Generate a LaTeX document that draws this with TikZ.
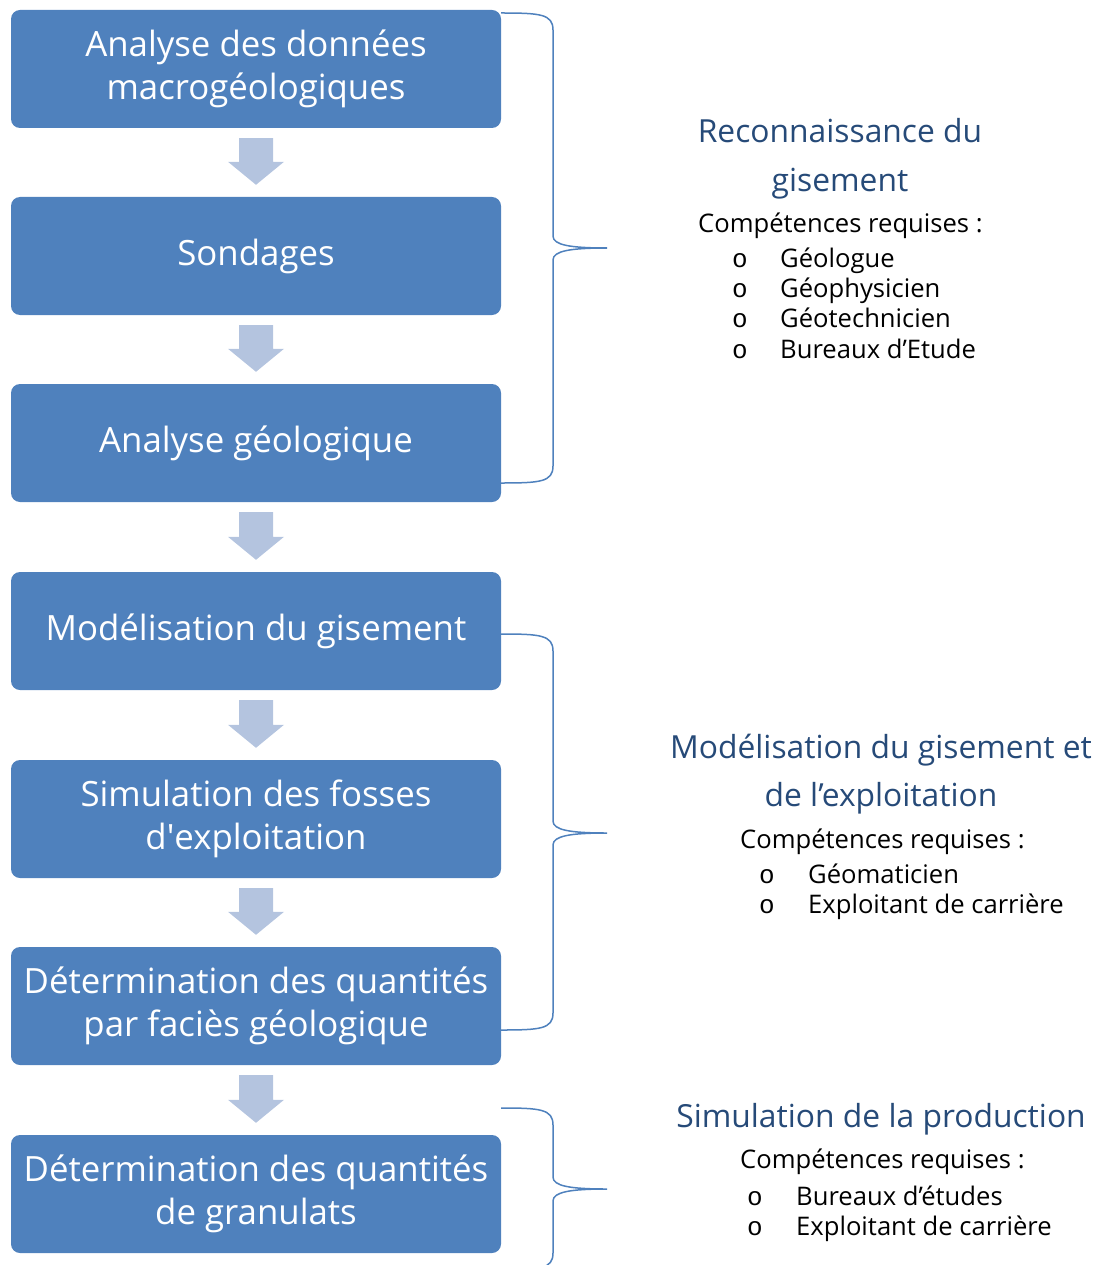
\documentclass[tikz,border=0pt]{standalone}
\usepackage{fontspec}
\setmainfont{Open Sans}
\newfontfamily\pucefont{Liberation Mono}
\usepackage{tikz}
\usetikzlibrary{calc}

\definecolor{boxblue}{RGB}{79,129,189}
\definecolor{arrowblue}{RGB}{180,196,223}
\definecolor{titleblue}{RGB}{38,74,120}

\tikzset{
  stepbox/.style={fill=boxblue, rounded corners=9pt, minimum width=490pt,
    minimum height=118pt, text=white, align=center,
    font=\fontsize{34.8}{43}\selectfont},
  titre/.style={anchor=base, inner sep=0pt, text=titleblue, font=\fontsize{31.8}{36}\selectfont},
  corps/.style={anchor=base west, inner sep=0pt, font=\fontsize{25.6}{30}\selectfont},
  puce/.style={anchor=base, inner sep=0pt, font=\pucefont\fontsize{26}{30}\selectfont},
  accolade/.style={draw=boxblue, line width=1.5pt}
}

\newcommand{\flowarrow}[2]{%
  \fill[arrowblue] ($(#1.south)+(-17,10)$) -- ($(#1.south)+(17,10)$)
    -- ($(#2.north)+(17,-35)$) -- ($(#2.north)+(28,-35)$)
    -- ($(#2.north)+(0,-12)$) -- ($(#2.north)+(-28,-35)$)
    -- ($(#2.north)+(-17,-35)$) -- cycle;}

\begin{document}
\begin{tikzpicture}[x=1pt,y=-1pt]
\useasboundingbox (0,0) rectangle (1117,1265);

% etapes
\node[stepbox] (b1) at (256,69) {Analyse des données\\macrogéologiques};
\node[stepbox] (b2) at (256,256) {Sondages};
\node[stepbox] (b3) at (256,443) {Analyse géologique};
\node[stepbox] (b4) at (256,631) {Modélisation du gisement};
\node[stepbox] (b5) at (256,819) {Simulation des fosses\\d\textquotesingle exploitation};
\node[stepbox] (b6) at (256,1006) {Détermination des quantités\\par faciès géologique};
\node[stepbox] (b7) at (256,1194) {Détermination des quantités\\de granulats};

\flowarrow{b1}{b2}
\flowarrow{b2}{b3}
\flowarrow{b3}{b4}
\flowarrow{b4}{b5}
\flowarrow{b5}{b6}
\flowarrow{b6}{b7}

% accolades
\draw[accolade] (501,13) .. controls (540,13) and (553,14) .. (553,30) -- (553,236)
  .. controls (553,245) and (570,248) .. (607,248)
  .. controls (570,248) and (553,251) .. (553,260) -- (553,466)
  .. controls (553,482) and (540,483) .. (501,483);
\draw[accolade] (501,634) .. controls (540,634) and (553,635) .. (553,651) -- (553,821)
  .. controls (553,830) and (570,833) .. (607,833)
  .. controls (570,833) and (553,836) .. (553,845) -- (553,1013)
  .. controls (553,1029) and (540,1030) .. (501,1030);
\draw[accolade] (501,1108) .. controls (540,1108) and (553,1109) .. (553,1125) -- (553,1177)
  .. controls (553,1186) and (570,1189) .. (607,1189)
  .. controls (570,1189) and (553,1192) .. (553,1201) -- (553,1253)
  .. controls (553,1269) and (540,1270) .. (501,1270);

% reconnaissance
\node[titre] (titre1a) at (840,143) {Reconnaissance du};
\node[titre] (titre1b) at (840,192) {gisement};
\node[corps] (comp1) at (698,233) {Compétences requises :};
\node[puce] (p11) at (740,267) {o};
\node[corps] (i11) at (780,267) {Géologue};
\node[puce] (p12) at (740,297) {o};
\node[corps] (i12) at (780,297) {Géophysicien};
\node[puce] (p13) at (740,327) {o};
\node[corps] (i13) at (780,327) {Géotechnicien};
\node[puce] (p14) at (740,358) {o};
\node[corps] (i14) at (780,358) {Bureaux d’Etude};

% modelisation
\node[titre] (titre2a) at (881,758) {Modélisation du gisement et};
\node[titre] (titre2b) at (881,806) {de l’exploitation};
\node[corps] (comp2) at (740,848) {Compétences requises :};
\node[puce] (p21) at (767,883) {o};
\node[corps] (i21) at (808,883) {Géomaticien};
\node[puce] (p22) at (767,913) {o};
\node[corps] (i22) at (808,913) {Exploitant de carrière};

% production
\node[titre] (titre3) at (881,1127) {Simulation de la production};
\node[corps] (comp3) at (740,1168) {Compétences requises :};
\node[puce] (p31) at (755,1205) {o};
\node[corps] (i31) at (796,1205) {Bureaux d’études};
\node[puce] (p32) at (755,1235) {o};
\node[corps] (i32) at (796,1235) {Exploitant de carrière};
\end{tikzpicture}
\end{document}
